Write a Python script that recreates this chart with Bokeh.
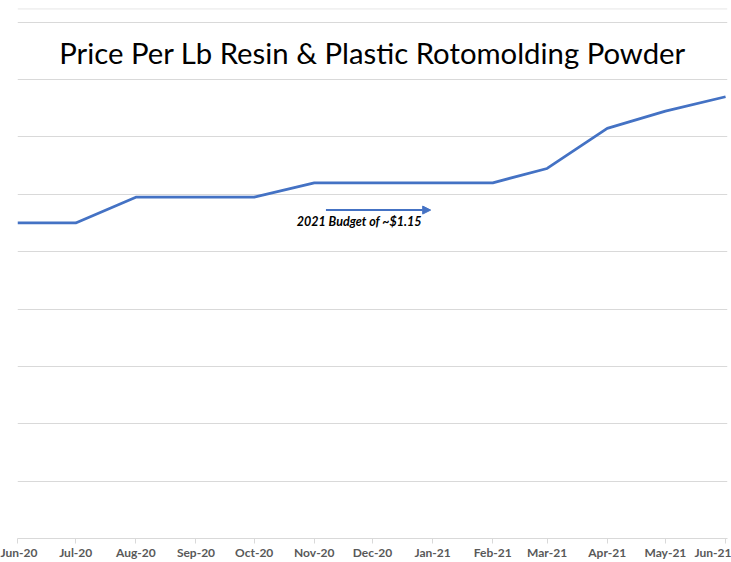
import pandas as pd
from bokeh.plotting import figure
from bokeh.models import (ColumnDataSource, FixedTicker, Span, Label, Arrow,
                          NormalHead, Range1d)
from bokeh.embed import file_html
from bokeh.resources import INLINE

# ---- data ----
months = ["2020-06-01", "2020-07-01", "2020-08-01", "2020-09-01", "2020-10-01",
          "2020-11-01", "2020-12-01", "2021-01-01", "2021-02-01", "2021-03-01",
          "2021-04-01", "2021-05-01", "2021-06-01"]
month_labels = ["Jun-20", "Jul-20", "Aug-20", "Sep-20", "Oct-20", "Nov-20", "Dec-20",
                "Jan-21", "Feb-21", "Mar-21", "Apr-21", "May-21", "Jun-21"]
prices = [1.10, 1.10, 1.19, 1.19, 1.19, 1.24, 1.24, 1.24, 1.24, 1.29, 1.43, 1.49, 1.54]
y_grid_ticks = [0.0, 0.2, 0.4, 0.6, 0.8, 1.0, 1.2, 1.4, 1.6, 1.8]

title_text = "Price Per Lb Resin & Plastic Rotomolding Powder"
budget_text = "2021 Budget of ~$1.15"
budget_value = 1.145
budget_arrow_start = "2020-11-07"
budget_arrow_end = "2020-12-31"
budget_label_x = "2020-10-23"
budget_label_y = 1.104
title_y = 1.695

x_start = "2020-06-01"
x_end = "2021-06-02"
y_start = 0.0
y_end = 1.8477


def ms(d):
    return pd.Timestamp(d).value // 10**6


dates = pd.to_datetime(months)
src = ColumnDataSource(data=dict(x=dates, y=prices))

p = figure(width=731, height=562, x_axis_type="datetime",
           x_range=Range1d(ms(x_start), ms(x_end)),
           y_range=Range1d(y_start, y_end),
           toolbar_location=None, output_backend="svg",
           min_border_left=17, min_border_right=4, min_border_top=8,
           y_axis_location=None)
p.outline_line_color = None
p.background_fill_color = "white"
p.border_fill_color = "white"

# grid
p.xgrid.visible = False
p.ygrid.ticker = FixedTicker(ticks=y_grid_ticks)
p.ygrid.grid_line_color = "#d9d9d9"
p.ygrid.grid_line_width = 1

# top border line
p.add_layout(Span(location=y_end - 0.001, dimension="width",
                  line_color="#d9d9d9", line_width=1))

# x axis
tick_vals = [ms(m) for m in months]
ax = p.xaxis[0]
ax.ticker = FixedTicker(ticks=tick_vals)
ax.major_label_overrides = {float(v): lab for v, lab in zip(tick_vals, month_labels)}
ax.axis_line_color = "#d9d9d9"
ax.major_tick_line_color = "#d9d9d9"
ax.major_tick_in = 0
ax.major_tick_out = 5
ax.minor_tick_line_color = None
ax.major_label_text_font = "Lato"
ax.major_label_text_font_style = "bold"
ax.major_label_text_font_size = "12px"
ax.major_label_text_color = "#595959"
ax.major_label_standoff = 1

# data line
p.line("x", "y", source=src, line_color="#4472C4", line_width=2.75)

# title
p.add_layout(Label(x=(ms(x_start) + ms(x_end)) / 2, y=title_y, text=title_text,
                   text_font="Lato", text_font_size="29.3px", text_color="#000000",
                   text_align="center", text_baseline="middle"))

# budget annotation
p.add_layout(Arrow(end=NormalHead(size=8, fill_color="#4472C4", line_color="#4472C4"),
                   x_start=ms(budget_arrow_start), y_start=budget_value,
                   x_end=ms(budget_arrow_end), y_end=budget_value,
                   line_color="#4472C4", line_width=2))
p.add_layout(Label(x=ms(budget_label_x), y=budget_label_y, text=budget_text,
                   text_font="Lato", text_font_style="bold italic",
                   text_font_size="12.5px", text_color="#000000",
                   text_align="left", text_baseline="middle"))

open("out.html", "w").write(file_html(p, INLINE))
